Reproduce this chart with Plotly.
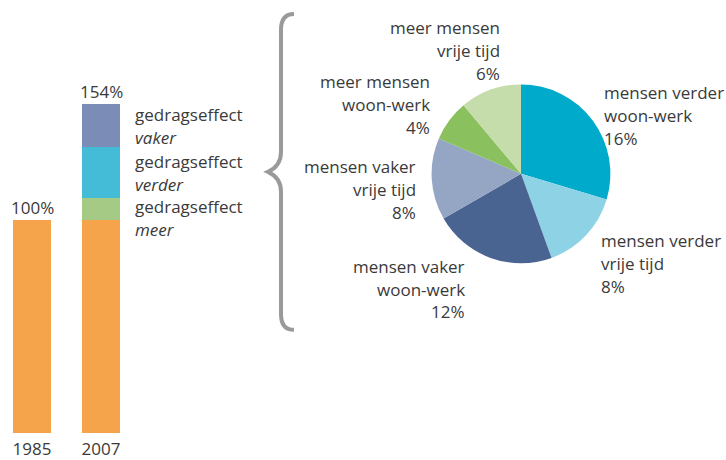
import plotly.graph_objects as go

# bar chart: index of car kilometres, 1985 = 100%
years = ['1985', '2007']
base = [100, 100]
effect_names = ['gedragseffect<br><i>meer</i>', 'gedragseffect<br><i>verder</i>', 'gedragseffect<br><i>vaker</i>']
effect_meer = [0, 10]
effect_verder = [0, 24]
effect_vaker = [0, 20]

# pie: split of the 54% behaviour effect
pie_labels = ['mensen verder<br>woon-werk', 'mensen verder<br>vrije tijd',
              'mensen vaker<br>woon-werk', 'mensen vaker<br>vrije tijd',
              'meer mensen<br>woon-werk', 'meer mensen<br>vrije tijd']
pie_values = [16, 8, 12, 8, 4, 6]

W, H = 726, 460
FONT = 'Open Sans'
FS = 17
TXT = '#3a3a3a'
LINE = 23


def px(x):
    return x / W


def py(y):
    return 1 - y / H


fig = go.Figure()

bar_colors = ['#f6a44b', '#a4ca85', '#45bcd7', '#7b8db6']
for vals, col in zip([base, effect_meer, effect_verder, effect_vaker], bar_colors):
    fig.add_trace(go.Bar(x=years, y=vals, marker=dict(color=col, line=dict(width=0)),
                         width=0.55, hoverinfo='skip'))

pie_colors = ['#00aacb', '#8ed2e6', '#4a6491', '#95a5c4', '#8bc05e', '#c4ddab']
fig.add_trace(go.Pie(labels=pie_labels, values=pie_values, sort=False, direction='clockwise',
                     rotation=0, textinfo='none', hoverinfo='label+value',
                     marker=dict(colors=pie_colors, line=dict(width=0)),
                     domain=dict(x=[px(431), px(611)], y=[py(265), py(85)])))

annotations = []

# totals above the bars (category index as x)
totals = [sum(v) for v in zip(base, effect_meer, effect_verder, effect_vaker)]
for i, tot in enumerate(totals):
    annotations.append(dict(x=i, y=tot, xref='x', yref='y', text='%d%%' % tot,
                            showarrow=False, yanchor='bottom', yshift=-1,
                            font=dict(family=FONT, size=FS, color=TXT)))

# effect labels next to the 2007 bar
lower = base[1]
shifts = [-9, 0, 0]
for name, vals, sh in zip(effect_names, [effect_meer, effect_verder, effect_vaker], shifts):
    mid = lower + vals[1] / 2
    lower += vals[1]
    for i, line in enumerate(name.split('<br>')):
        annotations.append(dict(x=px(133), y=mid, xref='paper', yref='y', text=line,
                                showarrow=False, xanchor='left', yanchor='middle',
                                yshift=sh + LINE / 2 - i * LINE,
                                font=dict(family=FONT, size=FS, color=TXT)))

# pie labels: (anchor x, first line y, side)
label_pos = [(602, 93, 'left'), (599, 242, 'left'), (467, 268, 'right'),
             (418, 168, 'right'), (432, 82, 'right'), (502, 28, 'right')]
for lab, val, (ax, ay, side) in zip(pie_labels, pie_values, label_pos):
    lines = lab.split('<br>') + ['%d%%' % val]
    for i, line in enumerate(lines):
        annotations.append(dict(x=px(ax), y=py(ay + i * LINE), xref='paper', yref='paper',
                                text=line, showarrow=False, xanchor=side, yanchor='middle',
                                font=dict(family=FONT, size=FS, color=TXT)))

# curly brace linking the bar to the pie
pts = [(294, 14), (281, 14), (281, 30), (281, 153), (281, 167), (268, 173),
       (281, 179), (281, 193), (281, 316), (281, 332), (294, 332)]
p = [(px(x), py(y)) for x, y in pts]
path = ('M %f %f Q %f %f %f %f L %f %f Q %f %f %f %f Q %f %f %f %f L %f %f Q %f %f %f %f'
        % tuple(c for pt in p for c in pt))
shapes = [dict(type='path', path=path, xref='paper', yref='paper',
               line=dict(color='#9a9a9a', width=4))]

fig.update_layout(
    width=W, height=H,
    margin=dict(l=0, r=0, t=0, b=0),
    paper_bgcolor='white', plot_bgcolor='white',
    barmode='stack', showlegend=False,
    font=dict(family=FONT, size=FS, color=TXT),
    annotations=annotations, shapes=shapes)

fig.update_xaxes(domain=[0, px(138)], range=[-32 / 69, -32 / 69 + 2],
                 showgrid=False, zeroline=False, showline=False, ticks='',
                 ticklabelstandoff=4,
                 tickfont=dict(family=FONT, size=FS, color=TXT), fixedrange=True)
fig.update_yaxes(domain=[py(436), py(92)], range=[0, 160], visible=False, fixedrange=True)

# page body has a default margin; remove it so the figure fills the window
fig.write_html("out.html", post_script="document.body.style.margin='0';",
               config=dict(displayModeBar=False))
